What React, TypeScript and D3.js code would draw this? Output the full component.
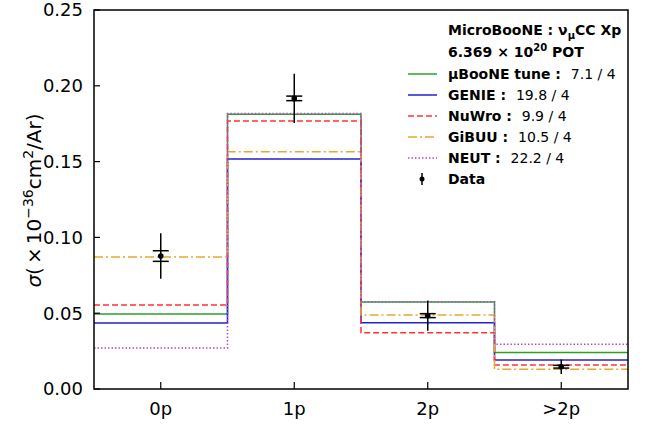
import React from "react";
import * as d3 from "d3";

const categories = ["0p", "1p", "2p", ">2p"];
const yTicks = [0, 0.05, 0.1, 0.15, 0.2, 0.25];

const uboone = [0.0495, 0.1812, 0.0574, 0.024];
const genie = [0.0435, 0.1517, 0.0437, 0.0191];
const nuwro = [0.0554, 0.1768, 0.0371, 0.0158];
const gibuu = [0.0871, 0.1565, 0.0488, 0.013];
const neut = [0.027, 0.1818, 0.0576, 0.0295];

const dataVals = [0.0877, 0.1917, 0.0484, 0.0147];
const dataErr = [0.015, 0.0163, 0.0099, 0.0048];
const dataStatErr = [0.0035, 0.0015, 0.0013, 0.0009];

const legendNames = ["μBooNE tune", "GENIE", "NuWro", "GiBUU", "NEUT"];
const legendChi2 = ["7.1 / 4", "19.8 / 4", "9.9 / 4", "10.5 / 4", "22.2 / 4"];

const W = 645, H = 424;
const L = 94, R = 628, T = 10, B = 389;

const series = [
  { vals: uboone, color: "#2ca02c", dash: "", width: 1.5 },
  { vals: genie, color: "#2222cc", dash: "", width: 1.5 },
  { vals: nuwro, color: "#ff3333", dash: "6,3", width: 1.5 },
  { vals: gibuu, color: "#e6a830", dash: "9,3,2,3", width: 1.5 },
  { vals: neut, color: "#bb44dd", dash: "1.5,2", width: 1.5 },
];

export default function App() {
  const x = d3.scaleLinear().domain([-0.5, 3.5]).range([L, R]);
  const y = d3.scaleLinear().domain([0, 0.25]).range([B, T]);
  const font = "DejaVu Sans";

  const stepPath = (vals: number[]) => {
    const pts: [number, number][] = [];
    vals.forEach((v, i) => {
      pts.push([x(i - 0.5), y(v)]);
      pts.push([x(i + 0.5), y(v)]);
    });
    return d3.line()(pts) as string;
  };

  const legY0 = 79;
  const legDy = 21;

  return (
    <svg width={W} height={H} style={{ position: "absolute", left: 0, top: 0 }} fontFamily={font}>
      <rect width={W} height={H} fill="white" />
      {series.map((s, i) => (
        <path key={i} d={stepPath(s.vals)} fill="none" stroke={s.color} strokeWidth={s.width} strokeDasharray={s.dash || undefined} />
      ))}
      {dataVals.map((v, i) => (
        <g key={i} stroke="black" strokeWidth={1.5}>
          <line x1={x(i)} x2={x(i)} y1={y(v - dataErr[i])} y2={y(v + dataErr[i])} />
          <line x1={x(i) - 8} x2={x(i) + 8} y1={y(v - dataStatErr[i])} y2={y(v - dataStatErr[i])} />
          <line x1={x(i) - 8} x2={x(i) + 8} y1={y(v + dataStatErr[i])} y2={y(v + dataStatErr[i])} />
          <circle cx={x(i)} cy={y(v)} r={2.8} fill="black" stroke="none" />
        </g>
      ))}
      <rect x={L} y={T} width={R - L} height={B - T} fill="none" stroke="black" strokeWidth={1.5} />
      {yTicks.map((t) => (
        <g key={t}>
          <line x1={L} x2={L + 6} y1={y(t)} y2={y(t)} stroke="black" strokeWidth={1.2} />
          <text x={L - 11} y={y(t)} dy="0.36em" textAnchor="end" fontSize={18}>{t.toFixed(2)}</text>
        </g>
      ))}
      {categories.map((c, i) => (
        <g key={c}>
          <line x1={x(i)} x2={x(i)} y1={B} y2={B - 7} stroke="black" strokeWidth={1.2} />
          <text x={x(i)} y={B + 26} textAnchor="middle" fontSize={18}>{c}</text>
        </g>
      ))}
      <text transform={`translate(41,${(T + B) / 2 + 1}) rotate(-90)`} textAnchor="middle" fontSize={20}>
        <tspan fontStyle="italic">σ</tspan>(<tspan dx="3">×</tspan><tspan dx="3">10</tspan><tspan dy="-8" fontSize={14}>−36</tspan><tspan dy="8">cm</tspan><tspan dy="-8" fontSize={14}>2</tspan><tspan dy="8">/Ar)</tspan>
      </text>
      <g fontSize={14}>
        <text x={448} y={35} fontWeight="bold">MicroBooNE : ν<tspan dy="4" fontSize={10}>μ</tspan><tspan dy="-4">CC Xp</tspan></text>
        <text x={448} y={57} fontWeight="bold">6.369 × 10<tspan dy="-6" fontSize={10}>20</tspan><tspan dy="6"> POT</tspan></text>
        {series.map((s, i) => (
          <g key={i}>
            <line x1={408} x2={437} y1={legY0 + i * legDy - 5} y2={legY0 + i * legDy - 5} stroke={s.color} strokeWidth={1.5} strokeDasharray={s.dash || undefined} />
            <text x={448} y={legY0 + i * legDy}>
              <tspan fontWeight="bold">{legendNames[i]} : </tspan>
              <tspan dx="5">{legendChi2[i]}</tspan>
            </text>
          </g>
        ))}
        <g stroke="black" strokeWidth={1.5}>
          <line x1={422} x2={422} y1={legY0 + 5 * legDy - 11} y2={legY0 + 5 * legDy + 1} />
          <circle cx={422} cy={legY0 + 5 * legDy - 5} r={2.5} fill="black" stroke="none" />
        </g>
        <text x={448} y={legY0 + 5 * legDy} fontWeight="bold">Data</text>
      </g>
    </svg>
  );
}
